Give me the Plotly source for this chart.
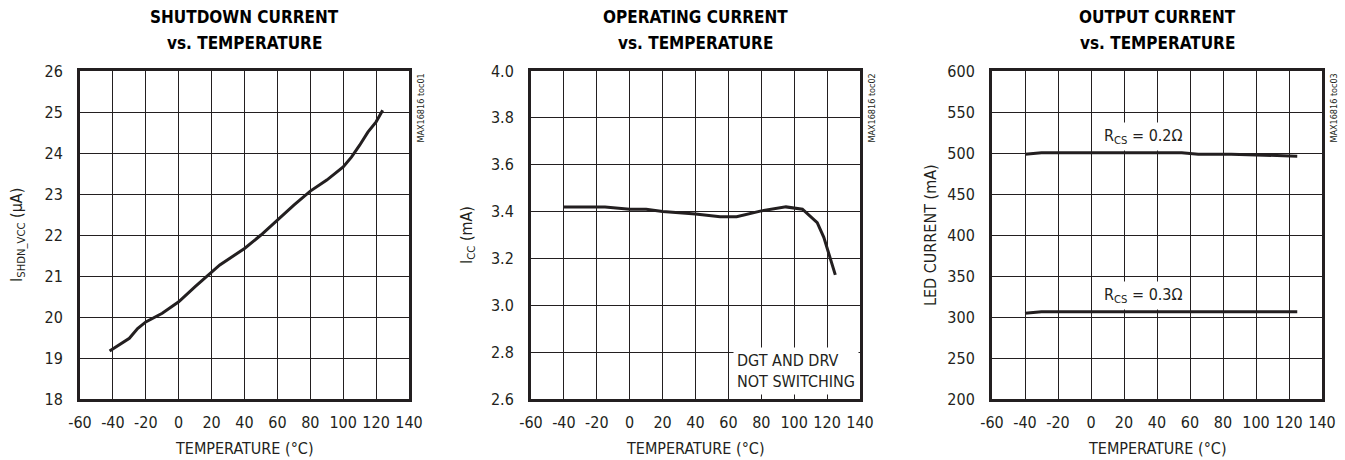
import plotly.graph_objects as go

# ---- data ----
t1 = [-42, -30, -25, -20, -10, 0, 10, 20, 25, 40, 50, 60, 70, 80, 90, 100, 105, 110, 115, 120, 124]
i_shdn = [19.17, 19.48, 19.72, 19.88, 20.09, 20.37, 20.74, 21.10, 21.27, 21.67, 22.00, 22.36, 22.73,
          23.07, 23.34, 23.66, 23.90, 24.19, 24.51, 24.76, 25.04]

t2 = [-40, -15, 0, 10, 20, 40, 55, 65, 80, 95, 105, 110, 114, 118, 121, 125]
i_cc = [3.419, 3.419, 3.41, 3.41, 3.40, 3.39, 3.378, 3.378, 3.403, 3.42, 3.41, 3.38, 3.353, 3.29, 3.22, 3.13]

t3 = [-40, -30, 0, 55, 65, 85, 105, 125]
i_led_02 = [498.6, 500.2, 500.2, 500.2, 498.4, 498.6, 497.4, 496.1]
i_led_03 = [304.7, 306.3, 306.3, 306.3, 306.3, 306.3, 306.0, 306.3]

x_ticks = [-60, -40, -20, 0, 20, 40, 60, 80, 100, 120, 140]
y1_ticks = [18, 19, 20, 21, 22, 23, 24, 25, 26]
y2_ticks = [2.6, 2.8, 3.0, 3.2, 3.4, 3.6, 3.8, 4.0]
y2_labels = ["2.6", "2.8", "3.0", "3.2", "3.4", "3.6", "3.8", "4.0"]
y3_ticks = [200, 250, 300, 350, 400, 450, 500, 550, 600]

title_l1 = ["SHUTDOWN CURRENT", "OPERATING CURRENT", "OUTPUT CURRENT"]
title_l2 = ["vs. TEMPERATURE", "vs. TEMPERATURE", "vs. TEMPERATURE"]
ytitles = ["I<sub>SHDN_VCC</sub> (µA)", "I<sub>CC</sub> (mA)", "LED CURRENT (mA)"]
xtitle = "TEMPERATURE (°C)"
tags = ["MAX16816 toc01", "MAX16816 toc02", "MAX16816 toc03"]

W, H = 1345, 460
FONT = "DejaVu Sans Condensed, sans-serif"
LC = "#231f20"


def px(X):
    return X / W


def py(Y):
    return 1 - Y / H


xdoms = [(80, 409), (531, 860), (992, 1322)]
ydom = (71, 399)
ytitle_x = [17, 467, 930]

fig = go.Figure()
line = dict(color=LC, width=3)
fig.add_trace(go.Scatter(x=t1, y=i_shdn, mode="lines", line=line, xaxis="x", yaxis="y", showlegend=False))
fig.add_trace(go.Scatter(x=t2, y=i_cc, mode="lines", line=line, xaxis="x2", yaxis="y2", showlegend=False))
fig.add_trace(go.Scatter(x=t3, y=i_led_02, mode="lines", line=line, xaxis="x3", yaxis="y3", showlegend=False))
fig.add_trace(go.Scatter(x=t3, y=i_led_03, mode="lines", line=line, xaxis="x3", yaxis="y3", showlegend=False))

yranges = [(18, 26), (2.6, 4.0), (200, 600)]
yticks = [(y1_ticks, [str(v) for v in y1_ticks]), (y2_ticks, y2_labels), (y3_ticks, [str(v) for v in y3_ticks])]

TS = 16
layout = dict(width=W, height=H, margin=dict(l=0, r=0, t=0, b=0),
              paper_bgcolor="white", plot_bgcolor="white",
              font=dict(family=FONT, color=LC, size=TS))
annotations = []
for k in range(3):
    sx = "" if k == 0 else str(k + 1)
    x0, x1 = xdoms[k]
    layout["xaxis" + sx] = dict(
        domain=[px(x0), px(x1)], range=[-60, 140], tickvals=x_ticks, ticktext=[str(v) for v in x_ticks],
        showgrid=True, gridcolor=LC, gridwidth=1, zeroline=False,
        showline=True, linecolor=LC, linewidth=3, mirror=True, ticks="", ticklen=0,
        ticklabelstandoff=7,
        anchor="y" + sx, automargin=False, fixedrange=True, tickfont=dict(size=TS),
    )
    layout["yaxis" + sx] = dict(
        domain=[py(ydom[1]), py(ydom[0])], range=list(yranges[k]),
        tickvals=yticks[k][0], ticktext=yticks[k][1],
        showgrid=True, gridcolor=LC, gridwidth=1, zeroline=False,
        showline=True, linecolor=LC, linewidth=3, mirror=True, ticks="", ticklen=0,
        ticklabelstandoff=11,
        anchor="x" + sx, automargin=False, fixedrange=True, tickfont=dict(size=TS),
    )
    xc = px((x0 + x1) / 2)
    annotations.append(dict(text="<b>" + title_l1[k] + "</b>", x=xc, y=py(17), xref="paper", yref="paper",
                            xanchor="center", yanchor="middle", showarrow=False,
                            font=dict(size=17, family=FONT, color="black")))
    annotations.append(dict(text="<b>" + title_l2[k] + "</b>", x=xc, y=py(43), xref="paper", yref="paper",
                            xanchor="center", yanchor="middle", showarrow=False,
                            font=dict(size=17, family=FONT, color="black")))
    annotations.append(dict(text=xtitle, x=xc, y=py(448), xref="paper", yref="paper",
                            xanchor="center", yanchor="middle", showarrow=False,
                            font=dict(size=TS, family=FONT, color=LC)))
    annotations.append(dict(text=ytitles[k], x=px(ytitle_x[k]), y=py((ydom[0] + ydom[1]) / 2),
                            xref="paper", yref="paper", xanchor="center", yanchor="middle",
                            textangle=-90, showarrow=False, font=dict(size=TS, family=FONT, color=LC)))
    annotations.append(dict(text=tags[k], x=px(x1 + 4), y=py(72), xref="paper", yref="paper",
                            xanchor="left", yanchor="top", textangle=-90, showarrow=False,
                            font=dict(size=9, family=FONT, color=LC)))

annotations.append(dict(text="DGT AND DRV<br>NOT SWITCHING", x=63, y=2.615, xref="x2", yref="y2",
                        xanchor="left", yanchor="bottom", align="left", showarrow=False,
                        bgcolor="white", borderpad=3, font=dict(size=TS, family=FONT, color=LC)))
annotations.append(dict(text="R<sub>CS</sub> = 0.2Ω", x=32, y=520, xref="x3", yref="y3",
                        xanchor="center", yanchor="middle", showarrow=False, bgcolor="white", borderpad=3,
                        font=dict(size=TS, family=FONT, color=LC)))
annotations.append(dict(text="R<sub>CS</sub> = 0.3Ω", x=32, y=326, xref="x3", yref="y3",
                        xanchor="center", yanchor="middle", showarrow=False, bgcolor="white", borderpad=3,
                        font=dict(size=TS, family=FONT, color=LC)))
layout["annotations"] = annotations
fig.update_layout(**layout)
fig.write_html("out.html", config={"displayModeBar": False},
               post_script="document.body.style.margin='0';document.body.style.overflow='hidden';")
